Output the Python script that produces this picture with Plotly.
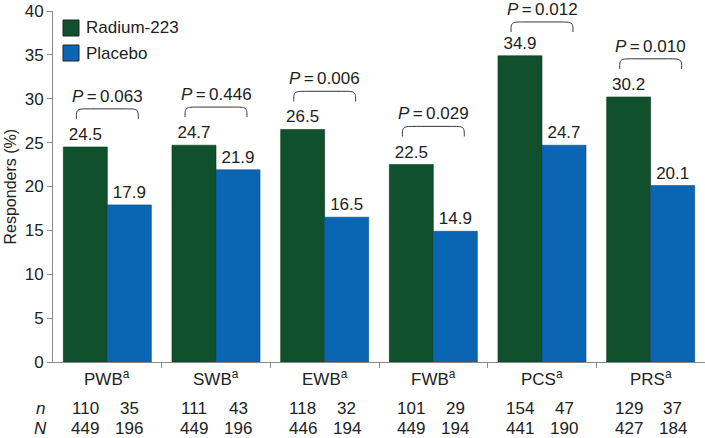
import plotly.graph_objects as go

categories = ["PWB", "SWB", "EWB", "FWB", "PCS", "PRS"]
radium = [24.5, 24.7, 26.5, 22.5, 34.9, 30.2]
placebo = [17.9, 21.9, 16.5, 14.9, 24.7, 20.1]
p_values = ["0.063", "0.446", "0.006", "0.029", "0.012", "0.010"]
n_radium = [110, 111, 118, 101, 154, 129]
n_placebo = [35, 43, 32, 29, 47, 37]
N_radium = [449, 449, 446, 449, 441, 427]
N_placebo = [196, 196, 194, 194, 190, 184]

GREEN = "#11502c"
BLUE = "#0a66b3"
AXIS = "#8a8a8a"
TXT = "#222"
FONT = "Liberation Sans, Arial, sans-serif"
FS = 17

xs = list(range(len(categories)))

fig = go.Figure()
fig.add_trace(go.Bar(
    x=xs, y=radium, name="Radium-223", marker=dict(color=GREEN, line=dict(color="#0a3a1e", width=0.6)),
    text=[f"{v:.1f}" for v in radium], textposition="outside", cliponaxis=False,
    textfont=dict(size=FS, color=TXT), showlegend=False, hoverinfo="skip"))
fig.add_trace(go.Bar(
    x=xs, y=placebo, name="Placebo", marker=dict(color=BLUE, line=dict(color="#084a80", width=0.6)),
    text=[f"{v:.1f}" for v in placebo], textposition="outside", cliponaxis=False,
    textfont=dict(size=FS, color=TXT), showlegend=False, hoverinfo="skip"))

shapes = []
annotations = []
half = 0.285
for i, (a, b, p) in enumerate(zip(radium, placebo, p_values)):
    m = max(a, b)
    y0 = min(m + 3.2, 37.6)
    y1 = y0 + 1.15
    x0, x1 = i - half, i + half
    dx = 0.13
    path = (f"M {x0},{y0} C {x0},{y1} {x0},{y1} {x0+dx},{y1} L {x1-dx},{y1} "
            f"C {x1},{y1} {x1},{y1} {x1},{y0}")
    shapes.append(dict(type="path", path=path, xref="x", yref="y",
                       line=dict(color="#333", width=1)))
    annotations.append(dict(x=i, y=y1, xref="x", yref="y", yanchor="bottom",
                            text=f"<i>P</i>\u2009=\u2009{p}",
                            showarrow=False, yshift=1,
                            font=dict(size=FS, color=TXT, family=FONT)))

off = 0.203
for i in xs:
    for xv, nv, Nv in ((i - off, n_radium[i], N_radium[i]), (i + off, n_placebo[i], N_placebo[i])):
        annotations.append(dict(x=xv, y=0, xref="x", yref="paper", yanchor="middle",
                                yshift=-46, text=str(nv), showarrow=False,
                                font=dict(size=FS, color=TXT, family=FONT)))
        annotations.append(dict(x=xv, y=0, xref="x", yref="paper", yanchor="middle",
                                yshift=-66, text=str(Nv), showarrow=False,
                                font=dict(size=FS, color=TXT, family=FONT)))
    annotations.append(dict(x=i, y=0, xref="x", yref="paper", yanchor="middle",
                            yshift=-16, text=f"{categories[i]}<sup>a</sup>", showarrow=False,
                            font=dict(size=FS, color=TXT, family=FONT)))

for lab, ys in (("<i>n</i>", -46), ("<i>N</i>", -66)):
    annotations.append(dict(x=-0.5, y=0, xref="x", yref="paper", yanchor="middle",
                            xanchor="center", xshift=-13, yshift=ys, text=lab, showarrow=False,
                            font=dict(size=FS, color=TXT, family=FONT)))

# y-axis title
annotations.append(dict(x=0, y=0.5, xref="paper", yref="paper", xanchor="center",
                        yanchor="middle", xshift=-43, textangle=-90, showarrow=False,
                        text="Responders (%)", font=dict(size=FS - 1, color=TXT, family=FONT)))

# custom legend
for j, (name, col) in enumerate((("Radium-223", GREEN), ("Placebo", BLUE))):
    ytop = 1 - (9 + j * 25) / 351
    ybot = 1 - (25 + j * 25) / 351
    shapes.append(dict(type="rect", xref="paper", yref="paper",
                       x0=10 / 652, x1=26 / 652, y0=ybot, y1=ytop,
                       fillcolor=col, line=dict(color="#222", width=1)))
    annotations.append(dict(x=31 / 652, y=(ytop + ybot) / 2, xref="paper", yref="paper",
                            xanchor="left", yanchor="middle", text=name, showarrow=False,
                            font=dict(size=FS, color=TXT, family=FONT)))

fig.update_layout(
    width=705, height=438,
    margin=dict(l=53, r=0, t=11, b=76, autoexpand=False),
    paper_bgcolor="white", plot_bgcolor="white",
    barmode="group", bargap=0.19, bargroupgap=0,
    font=dict(family=FONT, size=FS, color=TXT),
    shapes=shapes, annotations=annotations,
    xaxis=dict(range=[-0.5, 5.5], tickvals=xs, showticklabels=False, ticks="", automargin=False,
               showline=True, linecolor=AXIS, linewidth=1, showgrid=False, zeroline=False,
               minor=dict(tickvals=[0.5, 1.5, 2.5, 3.5, 4.5, 5.5], ticks="outside",
                          ticklen=5, tickcolor=AXIS, showgrid=False)),
    yaxis=dict(range=[0, 40], dtick=5, ticks="outside", ticklen=5, tickcolor=AXIS, automargin=False,
               showline=True, linecolor=AXIS, linewidth=1, showgrid=False, zeroline=False,
               tickfont=dict(size=FS)),
)

fig.write_html("out.html", config={"displayModeBar": False},
               post_script="document.body.style.margin='0';document.body.style.overflow='hidden';")
